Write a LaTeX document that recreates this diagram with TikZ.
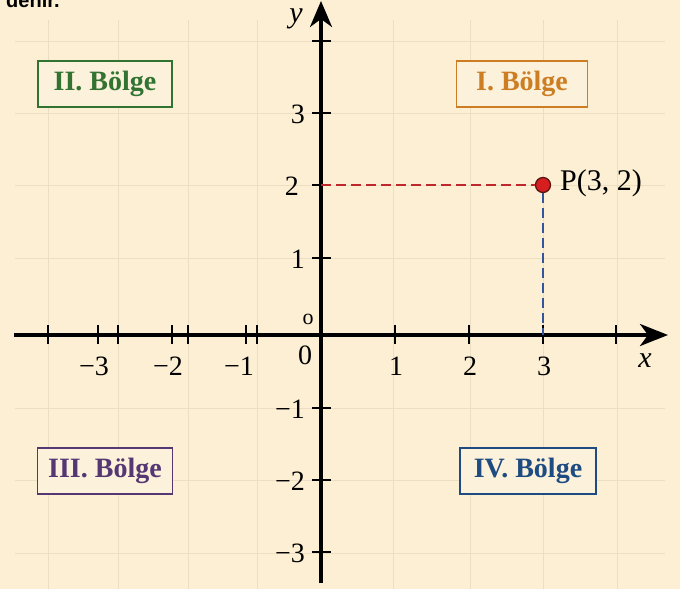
\documentclass[tikz,border=0pt]{standalone}
\usepackage{fontspec}
\setmainfont{Liberation Serif}
\newfontfamily\topfont{Liberation Sans}
\usetikzlibrary{arrows.meta}
\definecolor{bg}{RGB}{252,239,212}
\definecolor{gridc}{RGB}{236,222,194}
\definecolor{qone}{RGB}{205,125,35}
\definecolor{qtwo}{RGB}{50,115,50}
\definecolor{qthree}{RGB}{85,55,115}
\definecolor{qfour}{RGB}{30,75,130}
\definecolor{reddash}{RGB}{190,40,45}
\definecolor{bluedash}{RGB}{50,85,155}
\definecolor{ptfill}{RGB}{215,30,30}
\definecolor{ptline}{RGB}{95,20,20}
\definecolor{boxfill}{RGB}{252,241,218}
\tikzset{
  axisline/.style={line width=3.4pt, black},
  tickline/.style={line width=2pt, black},
  gridline/.style={line width=1pt, gridc},
  ticklab/.style={font=\fontsize{28}{28}\selectfont, inner sep=0pt},
  quadbox/.style={draw, line width=1.4pt, fill=boxfill, minimum width=134pt, minimum height=46pt, inner sep=0pt, font=\bfseries\fontsize{28}{28}\selectfont},
}
\begin{document}
\begin{tikzpicture}[x=1pt,y=-1pt]
\useasboundingbox (0,0) rectangle (680,589);
\clip (0,0) rectangle (680,589);
\fill[bg] (0,0) rectangle (680,589);
% grid
\foreach \gx in {48,118,188,257,393,470,543,617}
  \draw[gridline] (\gx,20) -- (\gx,589);
\foreach \gy in {41,113,185,258,408,480,553}
  \draw[gridline] (15,\gy) -- (665,\gy);
% partial top text
\node[anchor=base west, inner sep=0pt, font=\topfont\bfseries\fontsize{20}{20}\selectfont] (top) at (6,7) {denir.};
% coordinates
\coordinate (O) at (321,335);
\coordinate (xs) at (14,335);
\coordinate (xe) at (668,335);
\coordinate (ys) at (321,583);
\coordinate (ye) at (321,1);
% ticks x
\foreach \tx in {48,98,118,172,188,246,257,395,469,543,616}
  \draw[tickline] (\tx,325) -- (\tx,344);
% ticks y
\foreach \ty in {41,113,185,258,408,480,552}
  \draw[tickline] (312,\ty) -- (331,\ty);
% axes
\draw[axisline, -{Stealth[length=28pt,width=22pt,inset=8pt]}] (xs) -- (xe);
\draw[axisline, -{Stealth[length=26pt,width=22pt,inset=8pt]}] (ys) -- (ye);
% axis labels
\node[ticklab, font=\itshape\fontsize{30}{30}\selectfont] (xl) at (645,361) {x};
\node[ticklab, font=\itshape\fontsize{30}{30}\selectfont] (yl) at (296,19) {y};
% x tick labels
\node[ticklab] (xm3) at (94,366) {−3};
\node[ticklab] (xm2) at (168,366) {−2};
\node[ticklab] (xm1) at (239,366) {−1};
\node[ticklab] (x0) at (305,355) {0};
\node[ticklab, font=\fontsize{22}{22}\selectfont] (xo) at (308,319) {o};
\node[ticklab] (x1) at (396,366) {1};
\node[ticklab] (x2) at (470,366) {2};
\node[ticklab] (x3) at (544,366) {3};
% y tick labels
\node[ticklab, anchor=east] (y3) at (305,114) {3};
\node[ticklab, anchor=east] (y2) at (299,186) {2};
\node[ticklab, anchor=east] (y1) at (305,259) {1};
\node[ticklab, anchor=east] (ym1) at (305,409) {−1};
\node[ticklab, anchor=east] (ym2) at (305,481) {−2};
\node[ticklab, anchor=east] (ym3) at (305,553) {−3};
% quadrant boxes
\node[quadbox, draw=qtwo, text=qtwo] (q2) at (105,84) {II. Bölge};
\node[quadbox, draw=qone, text=qone, minimum width=131pt] (q1) at (522,84) {I. Bölge};
\node[quadbox, draw=qthree, text=qthree, minimum width=135pt] (q3) at (105,471) {III. Bölge};
\node[quadbox, draw=qfour, text=qfour, minimum width=136pt] (q4) at (528,471) {IV. Bölge};
% point
\coordinate (Py) at (321,185);
\coordinate (Px) at (543,335);
\node[circle, fill=ptfill, draw=ptline, line width=1.3pt, minimum size=15pt, inner sep=0pt] (P) at (543,185) {};
\draw[reddash, line width=2.6pt, dash pattern=on 10pt off 5pt] (Py) -- (P);
\draw[bluedash, line width=2.6pt, dash pattern=on 10pt off 5pt] (P) -- (Px);
\node[ticklab, anchor=west, font=\fontsize{30}{30}\selectfont] (Pl) at (560,183) {P(3, 2)};
\end{tikzpicture}
\end{document}
